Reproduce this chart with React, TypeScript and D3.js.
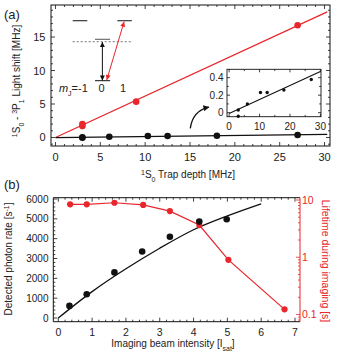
import React from "react";
import * as d3 from "d3";

const RED = "#e8262b";
const TXT = "#222";
const FONT = "'Liberation Sans', Arial, sans-serif";

// ---------- Panel (a) data ----------
const trapDepthBlack = [3, 3, 6, 10.3, 12.5, 18, 27];
const shiftMj0 = [-0.04, 0.03, 0.1, 0.23, 0.23, 0.26, 0.38];
const trapDepthRed = [3, 3, 9, 27];
const shiftMj1 = [1.7, 2.0, 5.35, 16.75];
const fitMj0X = [0, 30.3];
const fitMj0Y = [-0.01, 0.475];
const fitMj1X = [0, 30.3];
const fitMj1Y = [0, 18.75];
const xTicksA = [0, 5, 10, 15, 20, 25, 30];
const yTicksA = [0, 5, 10, 15];
const insetXTicks = [0, 10, 20, 30];
const insetYTicks = [0, 0.2, 0.4];
const insetYLabels = ["0", "0.2", "0.4"];

// energy level diagram (in panel-a data units)
const levelSolid = [
  { x1: 1.92, x2: 3.55, y: 17.43, c: "#111" },
  { x1: 6.9, x2: 8.51, y: 17.43, c: "#111" },
  { x1: 4.41, x2: 6.09, y: 14.66, c: "#555" },
  { x1: 4.41, x2: 6.09, y: 8.48, c: "#111" },
];
const levelDashed = [{ x1: 1.92, x2: 8.63, y: 14.3 }];

// ---------- Panel (b) data ----------
const intensity = [0.33, 0.84, 1.66, 2.48, 3.3, 4.17, 4.98];
const photonRate = [610, 1200, 2300, 3350, 4100, 4860, 4980];
const fitRateX = [0, 1, 2, 3, 4, 5, 6];
const fitRateY = [0, 1330, 2480, 3520, 4450, 5150, 5760];
const lifetimeX = [0.35, 0.84, 1.66, 2.51, 3.3, 4.17, 5.03, 6.69];
const lifetime = [8.4, 8.4, 8.95, 8.2, 6.4, 3.65, 0.9, 0.123];
const xTicksB = [0, 1, 2, 3, 4, 5, 6, 7];
const yTicksB = [0, 1000, 2000, 3000, 4000, 5000, 6000];
const yTicksR = [0.1, 1, 10];
const yTicksRLabels = ["0.1", "1", "10"];

export default function App() {
  // frames
  const A = { L: 51, R: 330, T: 5, B: 146 };
  const I = { L: 227, R: 321, T: 69.3, B: 116.7 };
  const Bf = { L: 53.3, R: 300, T: 197.7, B: 321.7 };

  const xA = d3.scaleLinear().domain([-0.5, 30.61]).range([A.L, A.R]);
  const yA = d3.scaleLinear().domain([-1.27, 19.78]).range([A.B, A.T]);
  const xI = d3.scaleLinear().domain([-0.7, 30.2]).range([I.L, I.R]);
  const yI = d3.scaleLinear().domain([-0.046, 0.496]).range([I.B, I.T]);
  const xB = d3.scaleLinear().domain([-0.148, 7.148]).range([Bf.L, Bf.R]);
  const yB = d3.scaleLinear().domain([-187, 6066]).range([Bf.B, Bf.T]);
  const yR = d3.scaleLog().domain([0.0748, 10.97]).range([Bf.B, Bf.T]);

  const lineA = (xs: number[], ys: number[], sx: any, sy: any) =>
    d3.line<number>().x((_, i) => sx(xs[i])).y((_, i) => sy(ys[i]))(xs) || "";

  const hTicks = (vals: number[], sx: any, f: any, len: number, color = "#111", both = true) =>
    vals.map((v, i) => (
      <g key={"h" + i + v}>
        <line x1={sx(v)} x2={sx(v)} y1={f.B} y2={f.B - len} stroke={color} strokeWidth={0.8} />
        {both && <line x1={sx(v)} x2={sx(v)} y1={f.T} y2={f.T + len} stroke={color} strokeWidth={0.8} />}
      </g>
    ));
  const vTicks = (vals: number[], sy: any, f: any, len: number, left = true, right = true, color = "#111") =>
    vals.map((v, i) => (
      <g key={"v" + i + v}>
        {left && <line x1={f.L} x2={f.L + len} y1={sy(v)} y2={sy(v)} stroke={color} strokeWidth={0.8} />}
        {right && <line x1={f.R} x2={f.R - len} y1={sy(v)} y2={sy(v)} stroke={color} strokeWidth={0.8} />}
      </g>
    ));

  const minorA_x = d3.range(0, 31, 1).filter((v) => v % 5 !== 0);
  const minorA_y = d3.range(-1, 20, 1).filter((v) => v % 5 !== 0);
  const minorI_x = [5, 15, 25];
  const minorI_y = [0.1, 0.3];
  const minorB_x = d3.range(0, 7.01, 0.2).filter((v) => Math.abs(v - Math.round(v)) > 0.01);
  const minorB_y = d3.range(0, 6001, 200).filter((v) => v % 1000 !== 0);
  const minorR: number[] = [];
  [0.1, 1].forEach((d) => [2, 3, 4, 5, 6, 7, 8, 9].forEach((m) => minorR.push(d * m)));
  [0.08, 0.09].forEach((v) => minorR.push(v));

  // curved arrow to inset (data coords)
  const arrowPath = `M${xA(15.03)},${yA(1.37)} Q${xA(15.3)},${yA(4.0)} ${xA(17.1)},${yA(4.55)}`;

  return (
    <svg width={339} height={359} style={{ position: "absolute", left: 0, top: 0, background: "#fff" }} fontFamily={FONT}>
      <defs>
        <marker id="ab" viewBox="0 0 10 10" refX={10} refY={5} markerWidth={6} markerHeight={5} markerUnits="userSpaceOnUse" orient="auto-start-reverse">
          <path d="M0,0 L10,5 L0,10 z" fill="#111" />
        </marker>
        <marker id="ar" viewBox="0 0 10 10" refX={10} refY={5} markerWidth={7} markerHeight={5} markerUnits="userSpaceOnUse" orient="auto-start-reverse">
          <path d="M0,0 L10,5 L0,10 z" fill={RED} />
        </marker>
        <marker id="ac" viewBox="0 0 10 10" refX={9} refY={5} markerWidth={7} markerHeight={6} markerUnits="userSpaceOnUse" orient="auto">
          <path d="M0,0 L10,5 L0,10 z" fill="#111" />
        </marker>
      </defs>

      {/* ================= Panel (a) ================= */}
      <text x={4} y={19} fontSize={13} fill={TXT}>(a)</text>

      {/* fits */}
      <path d={lineA(fitMj1X, fitMj1Y, xA, yA)} stroke={RED} strokeWidth={1.3} fill="none" />
      <path d={lineA(fitMj0X, fitMj0Y, xA, yA)} stroke="#111" strokeWidth={1.3} fill="none" />
      {trapDepthRed.map((x, i) => (
        <circle key={"ra" + i} cx={xA(x)} cy={yA(shiftMj1[i])} r={3.3} fill={RED} />
      ))}
      {trapDepthBlack.map((x, i) => (
        <circle key={"ba" + i} cx={xA(x)} cy={yA(shiftMj0[i])} r={3.3} fill="#111" />
      ))}

      {/* frame + ticks */}
      <rect x={A.L} y={A.T} width={A.R - A.L} height={A.B - A.T} fill="none" stroke="#111" strokeWidth={1} />
      {hTicks(xTicksA, xA, A, 4)}
      {hTicks(minorA_x, xA, A, 2)}
      {vTicks(yTicksA, yA, A, 4)}
      {vTicks(minorA_y, yA, A, 2)}
      {xTicksA.map((v) => (
        <text key={"xla" + v} x={xA(v)} y={160.5} fontSize={11} textAnchor="middle" fill={TXT}>{v}</text>
      ))}
      {yTicksA.map((v) => (
        <text key={"yla" + v} x={45.5} y={yA(v) + 4} fontSize={11} textAnchor="end" fill={TXT}>{v}</text>
      ))}
      <text x={188} y={178} fontSize={10} textAnchor="middle" fill={TXT}>
        <tspan fontSize={7} baselineShift="super">1</tspan>S<tspan fontSize={7} baselineShift="sub">0</tspan> Trap depth [MHz]
      </text>
      <text transform="translate(20,81) rotate(-90)" fontSize={10} textAnchor="middle" fill={TXT}>
        <tspan fontSize={7} baselineShift="super">1</tspan>S<tspan fontSize={7} baselineShift="sub">0</tspan> - <tspan fontSize={7} baselineShift="super">3</tspan>P<tspan fontSize={7} baselineShift="sub">1</tspan> Light shift [MHz]
      </text>

      {/* energy diagram */}
      {levelSolid.map((l, i) => (
        <line key={"ls" + i} x1={xA(l.x1)} x2={xA(l.x2)} y1={yA(l.y)} y2={yA(l.y)} stroke={l.c} strokeWidth={1} />
      ))}
      {levelDashed.map((l, i) => (
        <line key={"ld" + i} x1={xA(l.x1)} x2={xA(l.x2)} y1={yA(l.y)} y2={yA(l.y)} stroke="#666" strokeWidth={0.9} strokeDasharray="2,2" />
      ))}
      <line x1={xA(5.23)} x2={xA(5.23)} y1={yA(14.25)} y2={yA(8.5)} stroke="#111" strokeWidth={1} markerStart="url(#ab)" markerEnd="url(#ab)" />
      <line x1={xA(5.72)} y1={yA(8.6)} x2={xA(7.65)} y2={yA(17.28)} stroke={RED} strokeWidth={1} markerStart="url(#ar)" markerEnd="url(#ar)" />
      <text x={xA(3.6)} y={yA(6.72)} fontSize={11} textAnchor="end" fill={TXT}>
        <tspan fontStyle="italic">m</tspan><tspan fontSize={7} baselineShift="sub">J</tspan>=-1
      </text>
      <text x={xA(5.13)} y={yA(6.72)} fontSize={11} textAnchor="middle" fill={TXT}>0</text>
      <text x={xA(7.53)} y={yA(6.72)} fontSize={11} textAnchor="middle" fill={TXT}>1</text>

      {/* curved arrow */}
      <path d={arrowPath} fill="none" stroke="#111" strokeWidth={1.3} markerEnd="url(#ac)" />

      {/* inset */}
      <rect x={I.L} y={I.T} width={I.R - I.L} height={I.B - I.T} fill="#fff" stroke="#111" strokeWidth={0.9} />
      <path d={lineA(fitMj0X.map((v) => Math.min(v, 30)), [fitMj0Y[0], fitMj0Y[0] + (fitMj0Y[1] - fitMj0Y[0]) * 30 / 30.3], xI, yI)} stroke="#111" strokeWidth={1.1} fill="none" />
      {trapDepthBlack.map((x, i) => (
        <circle key={"bi" + i} cx={xI(x)} cy={yI(shiftMj0[i])} r={1.7} fill="#111" />
      ))}
      {hTicks(insetXTicks, xI, I, 3)}
      {hTicks(minorI_x, xI, I, 1.8)}
      {vTicks(insetYTicks, yI, I, 3)}
      {vTicks(minorI_y, yI, I, 1.8)}
      {insetXTicks.map((v) => (
        <text key={"xli" + v} x={xI(v)} y={129.5} fontSize={10} textAnchor="middle" fill={TXT}>{v}</text>
      ))}
      {insetYTicks.map((v, i) => (
        <text key={"yli" + v} x={223.5} y={yI(v) + 3.5} fontSize={10} textAnchor="end" fill={TXT}>{insetYLabels[i]}</text>
      ))}

      {/* ================= Panel (b) ================= */}
      <text x={4} y={189} fontSize={13} fill={TXT}>(b)</text>

      <path d={d3.line<number>().x((_, i) => xB(fitRateX[i])).y((_, i) => yB(fitRateY[i])).curve(d3.curveMonotoneX)(fitRateX) || ""} stroke="#111" strokeWidth={1.3} fill="none" />
      <path d={lineA(lifetimeX, lifetime, xB, yR)} stroke={RED} strokeWidth={1.2} fill="none" />
      {lifetimeX.map((x, i) => (
        <circle key={"rb" + i} cx={xB(x)} cy={yR(lifetime[i])} r={3.1} fill={RED} />
      ))}
      {intensity.map((x, i) => (
        <circle key={"bb" + i} cx={xB(x)} cy={yB(photonRate[i])} r={3.3} fill="#111" />
      ))}

      <line x1={Bf.L} x2={Bf.R} y1={Bf.T} y2={Bf.T} stroke="#111" strokeWidth={1} />
      <line x1={Bf.L} x2={Bf.R} y1={Bf.B} y2={Bf.B} stroke="#111" strokeWidth={1} />
      <line x1={Bf.L} x2={Bf.L} y1={Bf.T} y2={Bf.B} stroke="#111" strokeWidth={1} />
      <line x1={Bf.R} x2={Bf.R} y1={Bf.T} y2={Bf.B} stroke={RED} strokeWidth={1} />
      {hTicks(xTicksB, xB, Bf, 4)}
      {hTicks(minorB_x, xB, Bf, 2)}
      {vTicks(yTicksB, yB, Bf, 4, true, false)}
      {vTicks(minorB_y, yB, Bf, 2, true, false)}
      {vTicks(yTicksR, yR, Bf, 4, false, true, RED)}
      {vTicks(minorR, yR, Bf, 2, false, true, RED)}
      {xTicksB.map((v) => (
        <text key={"xlb" + v} x={xB(v)} y={335.5} fontSize={10.5} textAnchor="middle" fill={TXT}>{v}</text>
      ))}
      {yTicksB.map((v) => (
        <text key={"ylb" + v} x={48.5} y={yB(v) + 3.6} fontSize={10} textAnchor="end" fill={TXT}>{v}</text>
      ))}
      {yTicksR.map((v, i) => (
        <text key={"yrb" + v} x={302} y={yR(v) + 3.8} fontSize={10.5} textAnchor="start" fill={RED}>{yTicksRLabels[i]}</text>
      ))}
      <text x={173} y={347} fontSize={10} textAnchor="middle" fill={TXT}>
        Imaging beam intensity [I<tspan fontSize={7} baselineShift="sub">sat</tspan>]
      </text>
      <text transform="translate(12,259) rotate(-90)" fontSize={10} textAnchor="middle" fill={TXT}>
        Detected photon rate [s<tspan fontSize={7} baselineShift="super">-1</tspan>]
      </text>
      <text transform="translate(322,261) rotate(90)" fontSize={10.5} textAnchor="middle" fill={RED}>
        Lifetime during imaging [s]
      </text>
    </svg>
  );
}
